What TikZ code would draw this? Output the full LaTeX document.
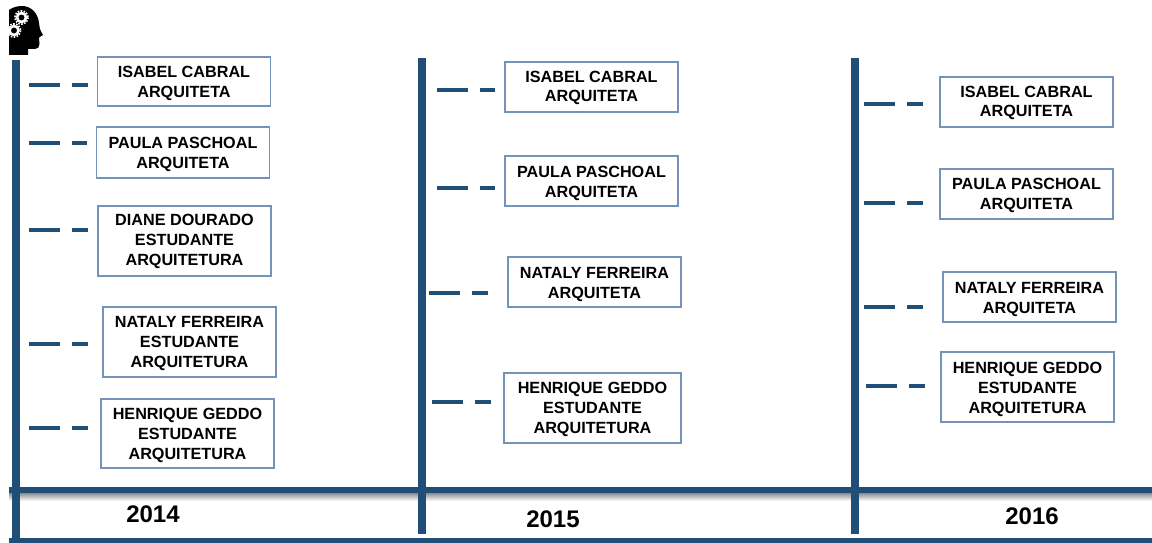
\documentclass[tikz,border=0pt]{standalone}
\usepackage{fontspec}
\setmainfont{Liberation Sans}
\definecolor{axisblue}{HTML}{1F4E79}
\definecolor{boxblue}{HTML}{7394B8}
\tikzset{
  x=1pt,y=-1pt,
  axisv/.style={draw=axisblue,line width=8pt},
  axish/.style={draw=axisblue,line width=6.5pt},
  person/.style={draw=boxblue,line width=1.1pt,fill=white,font=\fontsize{16.2}{20}\selectfont\bfseries,text=black,inner sep=0pt,minimum width=173pt},
  link/.style={draw=axisblue,line width=3.2pt,dash pattern=on 31pt off 12pt on 16pt off 100pt,shorten >=9pt},
  yearlabel/.style={font=\fontsize{24}{26}\selectfont\bfseries,text=black,inner sep=0pt},
}
\newcommand{\lowered}[2]{\raisebox{-#1pt}[\height][\depth]{\begin{tabular}{@{}c@{}}#2\end{tabular}}}
\begin{document}
\begin{tikzpicture}
\useasboundingbox (0,0) rectangle (1152,543);
\fill[white] (0,0) rectangle (1152,543);
% shadow under the upper rule
\shade[top color=black!45,bottom color=white] (9,493) rectangle (1152,501);
% axes
\coordinate (v14t) at (16,60);   \coordinate (v14b) at (16,539);
\coordinate (v15t) at (422,58);  \coordinate (v15b) at (422,534);
\coordinate (v16t) at (855,58);  \coordinate (v16b) at (855,534);
\coordinate (h1l) at (9,490);    \coordinate (h1r) at (1152,490);
\coordinate (h2l) at (9,540);    \coordinate (h2r) at (1152,540);
\draw[axish] (h1l) -- (h1r);
\draw[axish,line width=5pt] (h2l) -- (h2r);
\draw[axisv] (v14t) -- (v14b);
\draw[axisv] (v15t) -- (v15b);
\draw[axisv] (v16t) -- (v16b);
% head icon
\fill[black] (9,10) .. controls (13,7) and (18,6) .. (22,6)
  .. controls (31,6) and (38,13) .. (39,23)
  .. controls (39,27) and (40,30) .. (43,35)
  -- (39,37.5) -- (39.5,44) .. controls (39.5,47) and (38,49) .. (35,49)
  -- (28,49) -- (28,55) -- (9,55) -- cycle;
\draw[white,line width=1.6pt,dash pattern=on 1.6pt off 1.4pt] (21.5,17.5) circle (6.6);
\draw[white,line width=2.6pt] (21.5,17.5) circle (4.5);
\draw[white,line width=1.6pt,dash pattern=on 1.6pt off 1.4pt] (14,30.5) circle (6.6);
\draw[white,line width=2.6pt] (14,30.5) circle (4.5);
% 2014
\node[person,minimum height=49pt] (a1) at (184,81.5) {\lowered{2}{ISABEL CABRAL\\ARQUITETA}};
\node[person,minimum height=51pt] (a2) at (183,152.5) {\lowered{2}{PAULA PASCHOAL\\ARQUITETA}};
\node[person,minimum height=70pt] (a3) at (184.5,241) {\lowered{0.5}{DIANE DOURADO\\ESTUDANTE\\ARQUITETURA}};
\node[person,minimum height=70pt] (a4) at (189.5,342) {\lowered{1.2}{NATALY FERREIRA\\ESTUDANTE\\ARQUITETURA}};
\node[person,minimum height=69pt] (a5) at (187.5,433.5) {\lowered{1.7}{HENRIQUE GEDDO\\ESTUDANTE\\ARQUITETURA}};
% 2015
\node[person,minimum height=50pt] (b1) at (591.5,87) {\lowered{1}{ISABEL CABRAL\\ARQUITETA}};
\node[person,minimum height=50pt] (b2) at (591.5,181) {\lowered{2}{PAULA PASCHOAL\\ARQUITETA}};
\node[person,minimum height=50pt] (b3) at (594.5,282) {\lowered{2.2}{NATALY FERREIRA\\ARQUITETA}};
\node[person,minimum height=70pt,minimum width=177pt] (b4) at (592.5,408) {\lowered{1}{HENRIQUE GEDDO\\ESTUDANTE\\ARQUITETURA}};
% 2016
\node[person,minimum height=50pt] (c1) at (1026.5,102) {\lowered{1}{ISABEL CABRAL\\ARQUITETA}};
\node[person,minimum height=50pt] (c2) at (1026.5,194) {\lowered{1}{PAULA PASCHOAL\\ARQUITETA}};
\node[person,minimum height=50pt] (c3) at (1029.5,297) {\lowered{2}{NATALY FERREIRA\\ARQUITETA}};
\node[person,minimum height=70pt] (c4) at (1027.5,387) {\lowered{2}{HENRIQUE GEDDO\\ESTUDANTE\\ARQUITETURA}};
% connector starts
\coordinate (sa1) at (29,85);  \coordinate (sa2) at (29,143); \coordinate (sa3) at (29,230);
\coordinate (sa4) at (29,344); \coordinate (sa5) at (29,428);
\coordinate (sb1) at (437,90); \coordinate (sb2) at (437,188); \coordinate (sb3) at (429,293);
\coordinate (sb4) at (432,402);
\coordinate (sc1) at (864,104); \coordinate (sc2) at (864,203); \coordinate (sc3) at (864,307);
\coordinate (sc4) at (866,386);
\foreach \n in {a1,a2,a3,a4,a5,b1,b2,b3,b4,c1,c2,c3,c4}{
  \draw[link] (s\n) -- (s\n -| \n.west);
}
% years
\node[yearlabel] (y14) at (153,514) {2014};
\node[yearlabel] (y15) at (553,519) {2015};
\node[yearlabel] (y16) at (1032,516) {2016};
\end{tikzpicture}
\end{document}
